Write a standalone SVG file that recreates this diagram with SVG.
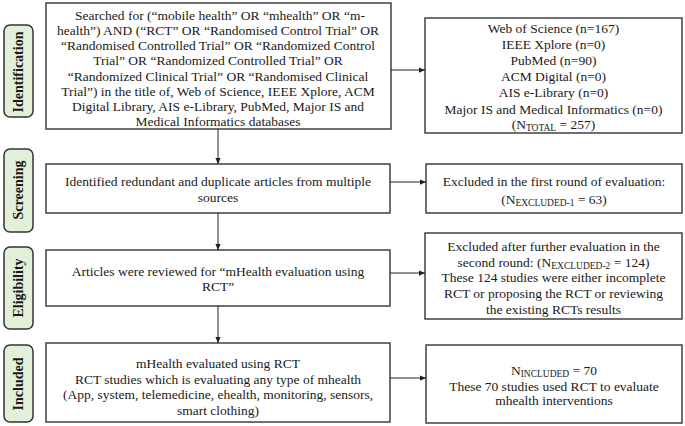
<svg xmlns="http://www.w3.org/2000/svg" width="685" height="426" viewBox="0 0 685 426">
<defs>
<style>
.box{fill:#fff;stroke:#333;stroke-width:1.4}
.lab{fill:#e2efd9;stroke:#333;stroke-width:1.5}
.t{font-family:"Liberation Serif","Times New Roman",serif;font-size:13.5px;fill:#1a1a1a;text-anchor:middle}
.lt{font-family:"Liberation Serif","Times New Roman",serif;font-size:14px;font-weight:bold;fill:#1a1a1a;text-anchor:middle}
.s{font-size:9.5px}
.c{stroke:#222;stroke-width:1;fill:none;marker-end:url(#ah)}
</style>
<marker id="ah" viewBox="0 0 8 8" refX="8" refY="4" markerWidth="6" markerHeight="6" markerUnits="userSpaceOnUse" orient="auto">
<path d="M0,0.5 L8,4 L0,7.5 z" fill="#222"/>
</marker>
</defs>
<rect width="685" height="426" fill="#fff"/>

<g id="label-identification">
<rect class="lab" x="4" y="25" width="29" height="92" rx="6"/>
<text class="lt" transform="translate(23,72) rotate(-90)">Identification</text>
</g>
<g id="label-screening">
<rect class="lab" x="4" y="149" width="29" height="83" rx="6"/>
<text class="lt" transform="translate(23,190) rotate(-90)">Screening</text>
</g>
<g id="label-eligibility">
<rect class="lab" x="4" y="247" width="29" height="82" rx="6"/>
<text class="lt" transform="translate(23,288) rotate(-90)">Eligibility</text>
</g>
<g id="label-included">
<rect class="lab" x="4" y="345" width="29" height="77" rx="6"/>
<text class="lt" transform="translate(23,384) rotate(-90)">Included</text>
</g>

<g id="search">
<rect class="box" x="46" y="3" width="345" height="126"/>
<text class="t" x="220" y="19.5">Searched for (“mobile health” OR “mhealth” OR “m-</text>
<text class="t" x="218" y="34.8">health”) AND (“RCT” OR “Randomised Control Trial” OR</text>
<text class="t" x="218" y="50.1">“Randomised Controlled Trial” OR “Randomized Control</text>
<text class="t" x="218" y="65.4">Trial” OR “Randomized Controlled Trial” OR</text>
<text class="t" x="218" y="80.7">“Randomized Clinical Trial” OR “Randomised Clinical</text>
<text class="t" x="218" y="96">Trial”) in the title of, Web of Science, IEEE Xplore, ACM</text>
<text class="t" x="218" y="111.3">Digital Library, AIS e-Library, PubMed, Major IS and</text>
<text class="t" x="218" y="126.3">Medical Informatics databases</text>
</g>
<g id="sources">
<rect class="box" x="425" y="18" width="257" height="115"/>
<text class="t" x="553.5" y="32.5">Web of Science (n=167)</text>
<text class="t" x="553.5" y="48.7">IEEE Xplore (n=0)</text>
<text class="t" x="553.5" y="64.9">PubMed (n=90)</text>
<text class="t" x="553.5" y="81.1">ACM Digital (n=0)</text>
<text class="t" x="553.5" y="97.3">AIS e-Library (n=0)</text>
<text class="t" x="553.5" y="113.5">Major IS and Medical Informatics (n=0)</text>
<text class="t" x="553.5" y="128.5">(N<tspan class="s" dy="2.5">TOTAL</tspan><tspan dy="-2.5"> = 257)</tspan></text>
</g>

<g id="screening">
<rect class="box" x="46" y="164" width="344" height="49"/>
<text class="t" x="218" y="185.5">Identified redundant and duplicate articles from multiple</text>
<text class="t" x="218" y="201.5">sources</text>
</g>
<g id="excluded1">
<rect class="box" x="426" y="164" width="256" height="49"/>
<text class="t" x="554" y="185.5">Excluded in the first round of evaluation:</text>
<text class="t" x="554" y="203.5">(N<tspan class="s" dy="2.5">EXCLUDED-1</tspan><tspan dy="-2.5"> = 63)</tspan></text>
</g>

<g id="eligibility">
<rect class="box" x="46" y="250" width="344" height="56"/>
<text class="t" x="218" y="275.5">Articles were reviewed for “mHealth evaluation using</text>
<text class="t" x="218" y="291">RCT”</text>
</g>
<g id="excluded2">
<rect class="box" x="425" y="233" width="257" height="86"/>
<text class="t" x="553.5" y="251">Excluded after further evaluation in the</text>
<text class="t" x="553.5" y="266.5">second round: (N<tspan class="s" dy="2.5">EXCLUDED-2</tspan><tspan dy="-2.5"> = 124)</tspan></text>
<text class="t" x="553.5" y="282">These 124 studies were either incomplete</text>
<text class="t" x="553.5" y="298">RCT or proposing the RCT or reviewing</text>
<text class="t" x="553.5" y="314">the existing RCTs results</text>
</g>

<g id="included">
<rect class="box" x="46" y="343" width="344" height="79"/>
<text class="t" x="218" y="368">mHealth evaluated using RCT</text>
<text class="t" x="218" y="383.5">RCT studies which is evaluating any type of mhealth</text>
<text class="t" x="218" y="399">(App, system, telemedicine, ehealth, monitoring, sensors,</text>
<text class="t" x="218" y="414.5">smart clothing)</text>
</g>
<g id="included-result">
<rect class="box" x="426" y="345" width="256" height="78"/>
<text class="t" x="554" y="374.5">N<tspan class="s" dy="2.5">INCLUDED</tspan><tspan dy="-2.5"> = 70</tspan></text>
<text class="t" x="554" y="390.5">These 70 studies used RCT to evaluate</text>
<text class="t" x="554" y="405">mhealth interventions</text>
</g>

<g id="connectors">
<path class="c" d="M218,129 V164"/>
<path class="c" d="M218,213 V250"/>
<path class="c" d="M218,306 V343"/>
<path class="c" d="M391,70 H425"/>
<path class="c" d="M390,182 H426"/>
<path class="c" d="M390,273 H425"/>
<path class="c" d="M390,378 H426"/>
</g>
</svg>
